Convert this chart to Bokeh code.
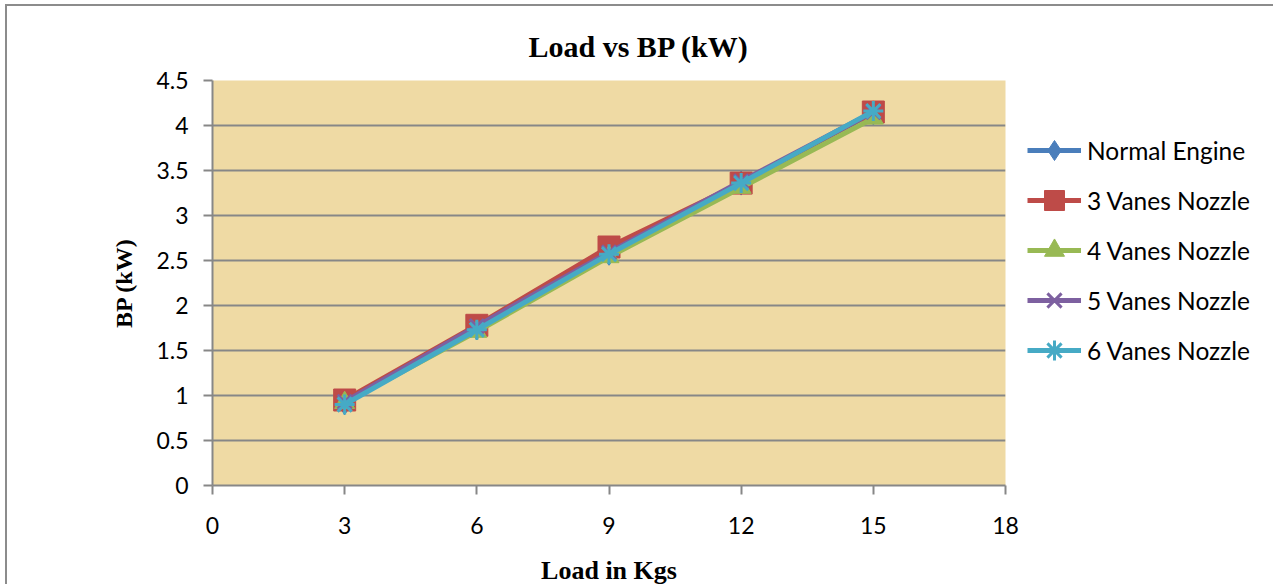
from bokeh.plotting import figure
from bokeh.models import FixedTicker, Legend, LegendItem, Range1d, Title
from bokeh.embed import file_html
from bokeh.resources import INLINE

# ---- data ----
load = [3, 6, 9, 12, 15]
normal_engine = [0.92, 1.75, 2.58, 3.36, 4.14]
vanes3 = [0.95, 1.78, 2.65, 3.36, 4.15]
vanes4 = [0.92, 1.71, 2.54, 3.31, 4.08]
vanes5 = [0.93, 1.77, 2.59, 3.38, 4.15]
vanes6 = [0.90, 1.73, 2.57, 3.36, 4.16]
series_names = ["Normal Engine", "3 Vanes Nozzle", "4 Vanes Nozzle", "5 Vanes Nozzle", "6 Vanes Nozzle"]
x_ticks = [0, 3, 6, 9, 12, 15, 18]
y_ticks = [0, 0.5, 1, 1.5, 2, 2.5, 3, 3.5, 4, 4.5]
y_tick_labels = ["0", "0.5", "1", "1.5", "2", "2.5", "3", "3.5", "4", "4.5"]

p = figure(output_backend="svg", toolbar_location=None,
           frame_width=793, frame_height=405,
           min_border_left=212, min_border_right=268,
           min_border_top=80, min_border_bottom=99,
           x_range=Range1d(0, 18), y_range=Range1d(0, 4.5))
p.styles = {"box-shadow": "inset 5px 4px 0 0 white, inset 7px 6px 0 0 #8c8c8c"}
p.background_fill_color = "#EFDAA4"
p.border_fill_color = None
p.outline_line_color = None

t = Title(text="Load vs BP (kW)", align="left", offset=316,
          text_font="Liberation Serif", text_font_size="30px",
          text_font_style="bold", text_color="black", standoff=36)
p.add_layout(t, "above")

label_font = "Lato"
for ax in (p.xaxis[0], p.yaxis[0]):
    ax.axis_line_color = "#878787"
    ax.axis_line_width = 2
    ax.major_tick_line_color = "#878787"
    ax.major_tick_line_width = 2
    ax.major_tick_out = 9
    ax.major_tick_in = 0
    ax.minor_tick_line_color = None
    ax.major_label_text_font = label_font
    ax.major_label_text_font_size = "23px"
    ax.major_label_text_color = "black"
    ax.axis_label_text_font = "Liberation Serif"
    ax.axis_label_text_font_style = "bold"
    ax.axis_label_text_color = "black"

p.xaxis.axis_label_text_font_size = "26px"
p.yaxis.axis_label_text_font_size = "24px"
p.xaxis.ticker = FixedTicker(ticks=x_ticks)
p.yaxis.ticker = FixedTicker(ticks=y_ticks)
p.yaxis.major_label_overrides = {t_: l for t_, l in zip(y_ticks, y_tick_labels)}
p.xaxis.axis_label = "Load in Kgs"
p.yaxis.axis_label = "BP (kW)"
p.xaxis.major_label_standoff = 22
p.yaxis.major_label_standoff = 15
p.xaxis.axis_label_standoff = 19
p.yaxis.axis_label_standoff = 16

p.xgrid.grid_line_color = None
p.ygrid.grid_line_color = "#878787"
p.ygrid.grid_line_width = 2
p.ygrid.ticker = FixedTicker(ticks=y_ticks)

colors = ["#4A7EBB", "#BE4B48", "#98B954", "#7D60A0", "#46AAC5"]
markers = ["diamond", "square", "triangle", "x", "asterisk"]
sizes = [24, 22, 20, 20, 20]
values = [normal_engine, vanes3, vanes4, vanes5, vanes6]

items = []
for name, vals, c, m, s in zip(series_names, values, colors, markers, sizes):
    ln = p.line(load, vals, line_color=c, line_width=5)
    if m in ("x", "asterisk"):
        sc = p.scatter(load, vals, marker=m, size=s, line_color=c, line_width=3)
    else:
        sc = p.scatter(load, vals, marker=m, size=s, fill_color=c, line_color=c)
    items.append(LegendItem(label=name, renderers=[ln, sc]))

legend = Legend(items=items, location=(22, 110))
legend.background_fill_alpha = 0
legend.border_line_color = None
legend.padding = 0
legend.margin = 0
legend.spacing = 0
legend.glyph_width = 54
legend.glyph_height = 50
legend.label_standoff = 6
legend.label_text_font = label_font
legend.label_text_font_size = "24.5px"
legend.label_text_color = "black"
p.add_layout(legend, "right")

open("out.html", "w").write(file_html(p, INLINE))
